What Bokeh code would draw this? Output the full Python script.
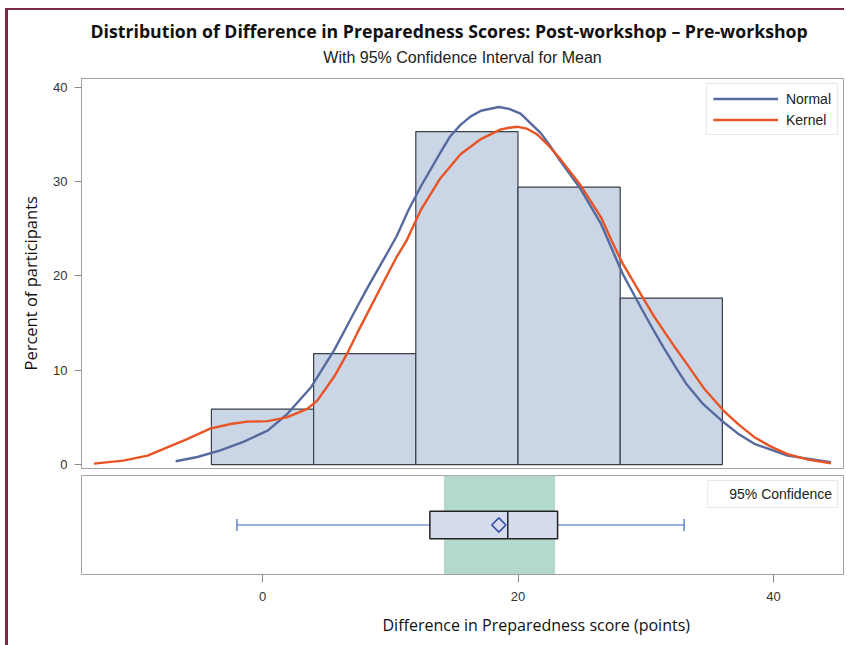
from bokeh.plotting import figure
from bokeh.models import Range1d, FixedTicker, Title, Legend, LegendItem
from bokeh.layouts import column
from bokeh.embed import file_html
from bokeh.resources import INLINE
import math

# ---------------- data ----------------
bin_left = [-4, 4, 12, 20, 28]
bin_right = [4, 12, 20, 28, 36]
bin_percent = [5.88, 11.76, 35.29, 29.41, 17.65]

normal_x = [-6.8, -5.1, -3.3, -1.5, 0.4, 1.9, 3.8, 5.6, 6.5, 7.4, 8.2, 9.0, 9.8, 10.5,
            11.4, 12.4, 13.9, 14.7, 15.5, 16.3, 17.1, 18.5, 19.3, 20.2, 21.8, 22.5,
            23.3, 24.9, 26.5, 27.3, 28.2, 29.6, 30.5, 31.4, 32.3, 33.2, 34.5, 35.9,
            37.2, 38.5, 41.1, 44.5]
normal_y = [0.35, 0.8, 1.5, 2.4, 3.6, 5.3, 8.2, 12.1, 14.4, 16.7, 18.7, 20.6, 22.5, 24.2,
            26.9, 29.5, 33.0, 34.8, 36.0, 36.9, 37.5, 37.9, 37.7, 37.2, 35.1, 33.8,
            32.2, 29.2, 25.5, 23.0, 20.2, 16.7, 14.5, 12.4, 10.4, 8.5, 6.4, 4.7,
            3.3, 2.2, 0.95, 0.24]

kernel_x = [-13.2, -10.9, -9.0, -7.5, -5.9, -4.1, -2.5, -1.2, 0.4, 1.9, 3.5, 4.3, 5.6,
            6.6, 7.4, 8.2, 9.0, 9.8, 10.5, 11.3, 12.4, 13.9, 15.5, 17.1, 18.6, 19.3,
            20.0, 20.7, 21.5, 22.4, 23.3, 24.9, 26.5, 27.3, 28.2, 29.9, 30.6, 31.4,
            32.3, 33.2, 34.6, 36.1, 37.3, 38.5, 39.8, 41.1, 42.8, 44.5]
kernel_y = [0.1, 0.42, 0.95, 1.8, 2.7, 3.8, 4.3, 4.55, 4.6, 5.0, 5.9, 6.8, 9.3,
            11.7, 13.9, 16.0, 18.1, 20.2, 22.0, 23.8, 27.0, 30.3, 32.9, 34.5, 35.5, 35.7,
            35.8, 35.6, 35.0, 33.8, 32.4, 29.6, 26.2, 23.8, 21.3, 17.4, 15.8, 14.2,
            12.4, 10.7, 8.0, 5.7, 4.2, 2.9, 1.9, 1.1, 0.5, 0.14]

box_q1 = 13.1
box_median = 19.2
box_q3 = 23.1
box_mean = 18.5
whisker_low = -2.0
whisker_high = 33.0
ci_low = 14.2
ci_high = 22.9

x_ticks = [0, 20, 40]
y_ticks = [0, 10, 20, 30, 40]

title_text = "Distribution of Difference in Preparedness Scores: Post-workshop \u2013 Pre-workshop"
subtitle_text = "With 95% Confidence Interval for Mean"
x_label = "Difference in Preparedness score (points)"
y_label = "Percent of participants"

# ---------------- styling ----------------
FRAME = "#a3a3a3"
BAR_FILL = "#cad5e5"
BAR_LINE = "#3a3f48"
NORMAL_C = "#566aa0"
KERNEL_C = "#e85424"
MAROON = "#7a2844"

x_range = Range1d(-14.17, 45.48)

# ---------------- histogram panel ----------------
top = figure(width=836, height=462, x_range=x_range, y_range=Range1d(-0.42, 40.92),
             x_axis_type=None, output_backend="svg", toolbar_location=None,
             min_border_left=73, min_border_right=1, min_border_top=68, min_border_bottom=4)
top.background_fill_color = "white"
top.border_fill_color = "white"
top.outline_line_color = FRAME
top.grid.visible = False

top.quad(left=bin_left, right=bin_right, bottom=0, top=bin_percent,
         fill_color=BAR_FILL, line_color=BAR_LINE, line_width=1.2)
rn = top.line(normal_x, normal_y, line_color=NORMAL_C, line_width=2.4)
rk = top.line(kernel_x, kernel_y, line_color=KERNEL_C, line_width=2.4)

ya = top.yaxis[0]
ya.ticker = FixedTicker(ticks=y_ticks)
ya.minor_tick_line_color = None
ya.major_tick_in = 0
ya.major_tick_out = 7
ya.major_tick_line_color = "#8a8a8a"
ya.axis_line_color = FRAME
ya.major_label_standoff = 7
ya.major_label_text_font = "Liberation Sans"
ya.major_label_text_font_size = "13px"
ya.major_label_text_color = "#333333"

top.add_layout(Title(text=y_label, align="left", offset=98, text_font="Open Sans",
                     text_font_size="16.5px", text_font_style="normal",
                     text_color="#111111", standoff=17), "left")

leg = Legend(items=[LegendItem(label="Normal", renderers=[rn]),
                    LegendItem(label="Kernel", renderers=[rk])],
             location="top_right", margin=5, padding=6, spacing=4,
             glyph_width=65, glyph_height=17, label_standoff=8,
             label_text_font="Liberation Sans", label_text_font_size="14px",
             label_text_color="#222222", border_line_color="#cfcfcf",
             background_fill_color="white", background_fill_alpha=1.0)
top.add_layout(leg)

top.add_layout(Title(text=subtitle_text, align="center", text_font="Liberation Sans",
                     text_font_size="16px", text_font_style="normal",
                     text_color="#222222", standoff=26), "above")
top.add_layout(Title(text=title_text, align="left", offset=9, text_font="Open Sans",
                     text_font_size="17.7px", text_font_style="bold",
                     text_color="#111111", standoff=-19), "above")

# ---------------- box plot panel ----------------
bot = figure(width=836, height=173, x_range=x_range, y_range=Range1d(0, 1),
             y_axis_type=None, output_backend="svg", toolbar_location=None,
             min_border_left=73, min_border_right=1, min_border_top=3, min_border_bottom=71)
bot.background_fill_color = "white"
bot.border_fill_color = "white"
bot.outline_line_color = FRAME
bot.grid.visible = False

bot.quad(left=[ci_low], right=[ci_high], bottom=[0], top=[1],
         fill_color="#b3d9cf", line_color=None)
bot.segment(x0=[whisker_low, box_q3], y0=[0.5, 0.5], x1=[box_q1, whisker_high], y1=[0.5, 0.5],
            line_color="#3a64c0", line_width=1.2)
bot.segment(x0=[whisker_low, whisker_high], y0=[0.44, 0.44],
            x1=[whisker_low, whisker_high], y1=[0.56, 0.56],
            line_color="#3a64c0", line_width=1.2)
bot.quad(left=[box_q1], right=[box_q3], bottom=[0.361], top=[0.639],
         fill_color="#d5dcee", line_color="#222222", line_width=1.5)
bot.segment(x0=[box_median], y0=[0.361], x1=[box_median], y1=[0.639],
            line_color="#222222", line_width=1.5)
bot.scatter(x=[box_mean], y=[0.5], marker="square", size=10, angle=math.pi / 4,
            fill_color=None, line_color="#3550a8", line_width=1.6)

dummy = bot.quad(left=[], right=[], bottom=[], top=[],
                 fill_color="#dfe3ea", line_color="#333333", line_width=1.2)
leg2 = Legend(items=[LegendItem(label="95% Confidence", renderers=[dummy])],
              location="top_right", margin=5, padding=5, spacing=0,
              glyph_width=12, glyph_height=12, label_standoff=4,
              label_text_font="Liberation Sans", label_text_font_size="14px",
              label_text_color="#222222", border_line_color="#cfcfcf",
              background_fill_color="white", background_fill_alpha=1.0)
bot.add_layout(leg2)

xa = bot.xaxis[0]
xa.ticker = FixedTicker(ticks=x_ticks)
xa.minor_tick_line_color = None
xa.major_tick_in = 0
xa.major_tick_out = 8
xa.major_tick_line_color = "#8a8a8a"
xa.axis_line_color = FRAME
xa.major_label_standoff = 9
xa.major_label_text_font = "Liberation Sans"
xa.major_label_text_font_size = "13px"
xa.major_label_text_color = "#333333"

bot.add_layout(Title(text=x_label, align="left", offset=301, text_font="Open Sans",
                     text_font_size="16px", text_font_style="normal",
                     text_color="#111111", standoff=16), "below")

layout = column(top, bot, spacing=0,
                styles={"border-left": f"3px solid {MAROON}",
                        "border-top": f"2px solid {MAROON}",
                        "margin-left": "5px", "margin-top": "8px"})

open("out.html", "w").write(file_html(layout, INLINE))
